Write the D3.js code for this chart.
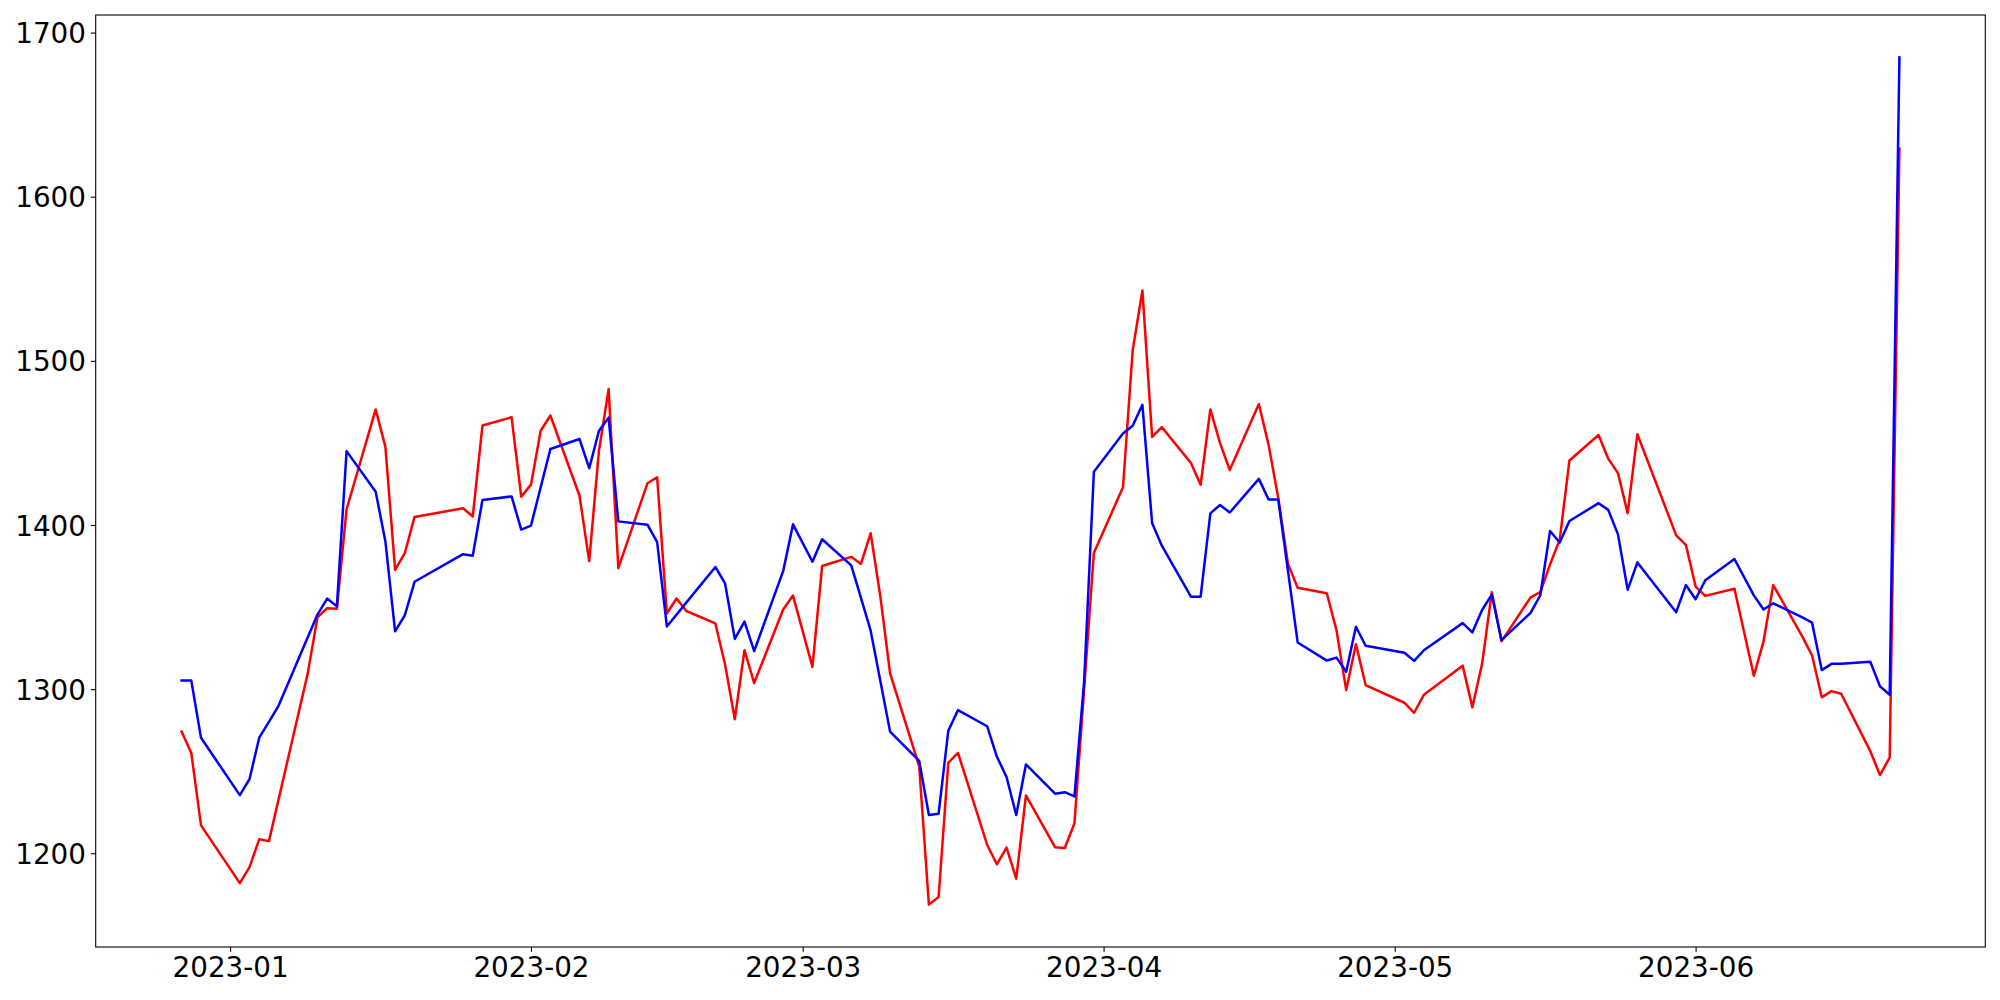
<!DOCTYPE html>
<html>
<head>
<meta charset="utf-8">
<script src="https://cdn.jsdelivr.net/npm/d3@7"></script>
<style>
  html, body { margin: 0; padding: 0; background: #ffffff; }
  svg { display: block; }
  text { font-family: "DejaVu Sans", sans-serif; }
</style>
</head>
<body>
<svg id="chart" width="2000" height="1000"></svg>
<script>
// ---- data (trading days) ----
const dates = [
  "2022-12-27","2022-12-28","2022-12-29",
  "2023-01-02","2023-01-03","2023-01-04","2023-01-05","2023-01-06",
  "2023-01-09","2023-01-10","2023-01-11","2023-01-12","2023-01-13",
  "2023-01-16","2023-01-17","2023-01-18","2023-01-19","2023-01-20",
  "2023-01-25","2023-01-26","2023-01-27","2023-01-30","2023-01-31",
  "2023-02-01","2023-02-02","2023-02-03",
  "2023-02-06","2023-02-07","2023-02-08","2023-02-09","2023-02-10",
  "2023-02-13","2023-02-14","2023-02-15","2023-02-16","2023-02-17",
  "2023-02-20","2023-02-21","2023-02-22","2023-02-23","2023-02-24",
  "2023-02-27","2023-02-28",
  "2023-03-02","2023-03-03",
  "2023-03-06","2023-03-07","2023-03-08","2023-03-09","2023-03-10",
  "2023-03-13","2023-03-14","2023-03-15","2023-03-16","2023-03-17",
  "2023-03-20","2023-03-21","2023-03-22","2023-03-23","2023-03-24",
  "2023-03-27","2023-03-28","2023-03-29","2023-03-30","2023-03-31",
  "2023-04-03","2023-04-04","2023-04-05","2023-04-06","2023-04-07",
  "2023-04-10","2023-04-11","2023-04-12","2023-04-13","2023-04-14",
  "2023-04-17","2023-04-18","2023-04-19","2023-04-20","2023-04-21",
  "2023-04-24","2023-04-25","2023-04-26","2023-04-27","2023-04-28",
  "2023-05-02","2023-05-03","2023-05-04",
  "2023-05-08","2023-05-09","2023-05-10","2023-05-11","2023-05-12",
  "2023-05-15","2023-05-16","2023-05-17","2023-05-18","2023-05-19",
  "2023-05-22","2023-05-23","2023-05-24","2023-05-25","2023-05-26",
  "2023-05-30","2023-05-31","2023-06-01","2023-06-02",
  "2023-06-05","2023-06-07","2023-06-08","2023-06-09",
  "2023-06-12","2023-06-13","2023-06-14","2023-06-15","2023-06-16",
  "2023-06-19","2023-06-20","2023-06-21","2023-06-22"
];

const redValues = [
  1274.1, 1261.1, 1217.0,
  1181.8, 1191.5, 1208.5, 1207.4, 1233.0,
  1309.6, 1343.7, 1349.3, 1348.9, 1409.6,
  1470.4, 1447.6, 1372.6, 1382.8, 1404.9,
  1410.2, 1405.2, 1460.6, 1465.6, 1417.2,
  1424.6, 1457.4, 1466.7,
  1417.8, 1378.0, 1445.0, 1482.8, 1373.7,
  1425.4, 1429.1, 1346.1, 1355.2, 1347.6,
  1340.0, 1315.0, 1281.7, 1323.7, 1303.7,
  1348.7, 1357.0,
  1313.6, 1375.0,
  1380.6, 1376.3, 1395.0, 1356.3, 1309.6,
  1253.0, 1168.7, 1173.3, 1255.2, 1261.1,
  1205.2, 1193.3, 1203.5, 1184.5, 1235.2,
  1203.7, 1203.2, 1218.3, 1300.5, 1383.0,
  1423.0, 1506.5, 1542.9, 1453.7, 1459.6,
  1437.8, 1424.5, 1470.4, 1449.9, 1433.5,
  1473.7, 1448.8, 1416.5, 1376.3, 1361.7,
  1358.4, 1335.8, 1299.4, 1327.4, 1302.5,
  1291.7, 1285.6, 1296.5,
  1314.3, 1288.9, 1315.4, 1359.1, 1329.1,
  1355.9, 1359.1, 1375.9, 1391.1, 1439.3,
  1454.8, 1440.4, 1431.6, 1407.2, 1455.3,
  1393.7, 1387.9, 1362.5, 1356.8,
  1361.2, 1308.1, 1329.1, 1363.4,
  1332.0, 1320.5, 1295.0, 1298.8, 1297.2,
  1262.2, 1247.6, 1258.4, 1629.2
];

const blueValues = [
  1305.2, 1305.2, 1270.4,
  1235.4, 1245.2, 1270.4, 1280.0, 1290.0,
  1331.6, 1345.4, 1355.2, 1350.4, 1445.0,
  1420.2, 1390.0, 1335.2, 1345.0, 1365.4,
  1382.2, 1381.3, 1415.2, 1417.4, 1397.2,
  1399.6, 1423.0, 1446.3,
  1452.4, 1434.6, 1457.2, 1465.4, 1402.2,
  1400.2, 1389.6, 1338.2, 1345.4, 1352.7,
  1374.4, 1364.4, 1330.6, 1341.1, 1323.2,
  1372.2, 1400.4,
  1377.6, 1391.3,
  1375.4, 1355.6, 1335.6, 1305.0, 1274.1,
  1256.3, 1223.3, 1224.1, 1274.6, 1287.2,
  1277.4, 1258.9, 1246.5, 1223.3, 1254.1,
  1236.3, 1237.2, 1234.6, 1305.0, 1432.5,
  1455.8, 1460.4, 1473.2, 1401.2, 1387.4,
  1356.3, 1356.3, 1407.1, 1412.2, 1407.6,
  1428.1, 1415.5, 1415.5, 1372.0, 1328.4,
  1317.4, 1319.2, 1310.6, 1338.0, 1326.4,
  1322.2, 1317.2, 1323.7,
  1340.2, 1334.6, 1348.2, 1357.6, 1329.8,
  1346.5, 1357.2, 1396.3, 1389.3, 1402.4,
  1413.3, 1409.2, 1394.3, 1360.5, 1377.2,
  1346.9, 1363.4, 1354.8, 1366.3,
  1379.3, 1357.1, 1348.5, 1352.3,
  1343.7, 1340.5, 1311.6, 1315.4, 1315.5,
  1316.7, 1301.7, 1296.6, 1684.9
];

const xTickLabels = ["2023-01","2023-02","2023-03","2023-04","2023-05","2023-06"];
const yTickValues = [1200, 1300, 1400, 1500, 1600, 1700];

// ---- layout ----
const W = 2000, H = 1000;
const plot = { left: 95.7, right: 1985.3, top: 15, bottom: 947 };
const fontPx = 27.8;
const tickLen = 4.86, tickPad = 4.86;

const parse = d3.utcParse("%Y-%m-%d");
const parseMonth = d3.utcParse("%Y-%m");
const xs = dates.map(parse);

// matplotlib-style 5% margins
const xMin = d3.min(xs), xMax = d3.max(xs);
const xSpan = xMax - xMin;
const allVals = redValues.concat(blueValues);
const yMin = d3.min(allVals), yMax = d3.max(allVals);
const ySpan = yMax - yMin;

const x = d3.scaleUtc()
  .domain([new Date(+xMin - 0.05 * xSpan), new Date(+xMax + 0.05 * xSpan)])
  .range([plot.left, plot.right]);
const y = d3.scaleLinear()
  .domain([yMin - 0.05 * ySpan, yMax + 0.05 * ySpan])
  .range([plot.bottom, plot.top]);

const svg = d3.select("#chart");
svg.append("rect").attr("x", 0).attr("y", 0).attr("width", W).attr("height", H).attr("fill", "#ffffff");

// clip
svg.append("clipPath").attr("id", "clip")
  .append("rect")
  .attr("x", plot.left).attr("y", plot.top)
  .attr("width", plot.right - plot.left).attr("height", plot.bottom - plot.top);

const series = [
  { name: "red", values: redValues, color: "#ff0000" },
  { name: "blue", values: blueValues, color: "#0000ff" }
];

const line = d3.line()
  .x(d => x(d[0]))
  .y(d => y(d[1]));

const g = svg.append("g").attr("clip-path", "url(#clip)");
series.forEach(s => {
  g.append("path")
    .datum(xs.map((t, i) => [t, s.values[i]]))
    .attr("fill", "none")
    .attr("stroke", s.color)
    .attr("stroke-width", 2.5)
    .attr("stroke-linejoin", "round")
    .attr("stroke-linecap", "square")
    .attr("d", line);
});

// axes
const xAxis = d3.axisBottom(x)
  .tickValues(xTickLabels.map(parseMonth))
  .tickFormat(d3.utcFormat("%Y-%m"))
  .tickSizeInner(tickLen).tickSizeOuter(0).tickPadding(tickPad);
const yAxis = d3.axisLeft(y)
  .tickValues(yTickValues)
  .tickFormat(d3.format("d"))
  .tickSizeInner(tickLen).tickSizeOuter(0).tickPadding(tickPad);

const gx = svg.append("g").attr("transform", `translate(0,${plot.bottom})`).call(xAxis);
const gy = svg.append("g").attr("transform", `translate(${plot.left},0)`).call(yAxis);

[gx, gy].forEach(ax => {
  ax.select(".domain").remove();
  ax.selectAll(".tick line").attr("stroke", "#000").attr("stroke-width", 1.1);
  ax.selectAll(".tick text")
    .attr("fill", "#000")
    .style("font-family", "'DejaVu Sans', sans-serif")
    .style("font-size", fontPx + "px");
});
gx.selectAll(".tick text").attr("dy", null).attr("y", tickLen + tickPad + 0.745 * fontPx);
gy.selectAll(".tick text").attr("dy", null).attr("y", 0.364 * fontPx);

// frame (spines)
svg.append("rect")
  .attr("x", plot.left).attr("y", plot.top)
  .attr("width", plot.right - plot.left).attr("height", plot.bottom - plot.top)
  .attr("fill", "none").attr("stroke", "#000").attr("stroke-width", 1.1);
</script>
</body>
</html>
